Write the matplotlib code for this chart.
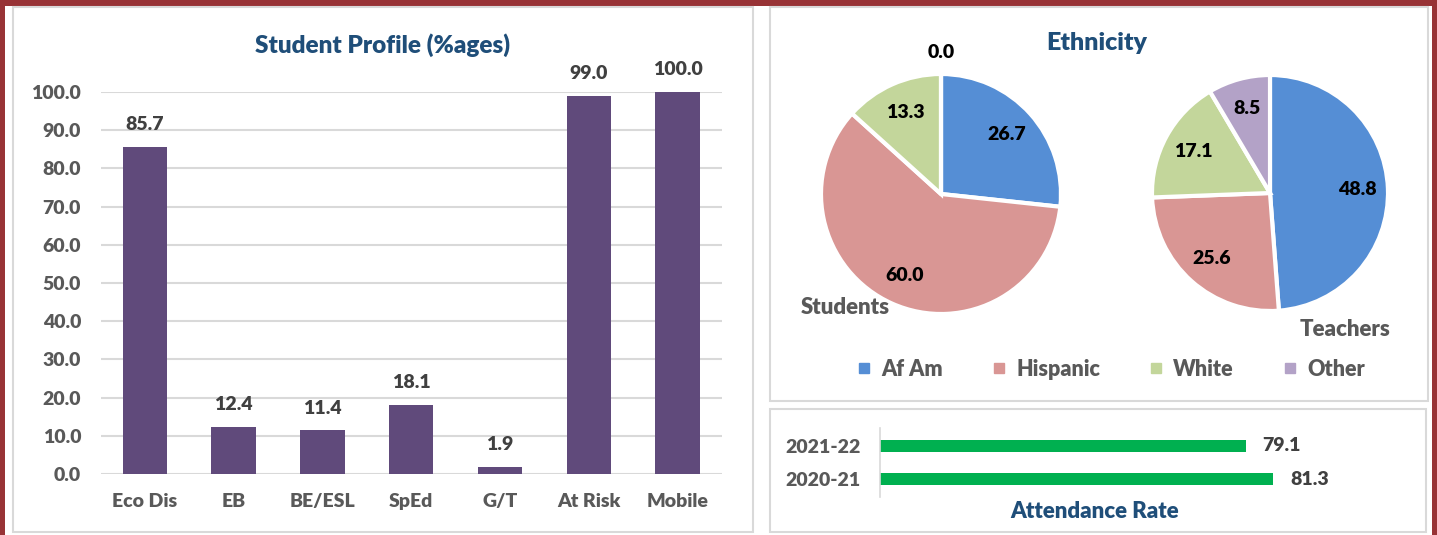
import matplotlib
matplotlib.use("Agg")
import matplotlib.pyplot as plt
from matplotlib.patches import Rectangle
from matplotlib.lines import Line2D
import numpy as np

plt.rcParams['font.family'] = ['Lato', 'DejaVu Sans']
plt.rcParams['font.weight'] = 'heavy'

# ---- data ----
profile_cats = ["Eco Dis", "EB", "BE/ESL", "SpEd", "G/T", "At Risk", "Mobile"]
profile_vals = [85.7, 12.4, 11.4, 18.1, 1.9, 99.0, 100.0]

eth_groups = ["Af Am", "Hispanic", "White", "Other"]
students_eth = [26.7, 60.0, 13.3, 0.0]
teachers_eth = [48.8, 25.6, 17.1, 8.5]

att_years = ["2020-21", "2021-22"]
att_rate = [81.3, 79.1]

# ---- styles ----
W, H = 1437, 535
RED = "#983336"
TITLE = "#1F4E79"
GREY_TXT = "#595959"
LBL = "#404040"
BORDER = "#D9D9D9"
PURPLE = "#604A7B"
GREEN = "#00B050"
eth_colors = ["#558ED5", "#D99694", "#C3D69B", "#B3A2C7"]

fig = plt.figure(figsize=(W / 100, H / 100), dpi=100, facecolor=RED)


def box(x0, y0, x1, y1):
    """pixel box (top-left origin) -> figure fraction rect"""
    return [x0 / W, 1 - y1 / H, (x1 - x0) / W, (y1 - y0) / H]


def panel(x0, y0, x1, y1, face="white", edge=BORDER, lw=1.5):
    r = box(x0, y0, x1, y1)
    fig.patches.append(Rectangle((r[0], r[1]), r[2], r[3], transform=fig.transFigure,
                                 facecolor=face, edgecolor=edge, linewidth=lw, zorder=-5))


panel(5, 6, 1432, 540, edge="none", lw=0)
panel(13, 7, 753, 532)
panel(770, 7, 1428, 401)
panel(770, 409, 1426, 532)

# ---- Student profile bars ----
ax = fig.add_axes(box(100.5, 92, 722, 474))
x = np.arange(len(profile_cats))
bars = ax.bar(x, profile_vals, width=0.5, color=PURPLE, zorder=3)
ax.set_xlim(-0.5, len(profile_cats) - 0.5)
ax.set_ylim(0, 100)
ax.set_yticks(np.arange(0, 101, 10))
ax.set_yticklabels([f"{v:.1f}" for v in np.arange(0, 101, 10)])
ax.set_xticks(x)
ax.set_xticklabels(profile_cats)
ax.tick_params(axis='y', length=0, pad=14, labelsize=14, labelcolor=GREY_TXT)
ax.tick_params(axis='x', length=0, pad=14, labelsize=14, labelcolor=GREY_TXT)
ax.grid(axis='y', color=BORDER, linewidth=1.5, zorder=0)
for s in ax.spines.values():
    s.set_visible(False)
ax.set_facecolor("none")
for b, v in zip(bars, profile_vals):
    ax.annotate(f"{v:.1f}", (b.get_x() + b.get_width() / 2, v), xytext=(0, 10),
                textcoords="offset points", ha="center", va="bottom",
                fontsize=14, color=LBL, annotation_clip=False)
fig.text(383 / W, 1 - 45 / H, "Student Profile (%ages)", ha="center", va="center",
         fontsize=17.5, color=TITLE)

# ---- Ethnicity pies ----
fig.text(1097 / W, 1 - 43 / H, "Ethnicity", ha="center", va="center", fontsize=18, color=TITLE)


def draw_pie(cx, cy, r_px, vals):
    a = fig.add_axes(box(cx - 150, cy - 150, cx + 150, cy + 150))
    rad = r_px / 120
    wedges, _ = a.pie(vals, colors=eth_colors, startangle=90, counterclock=False,
                      radius=rad, wedgeprops=dict(edgecolor="white", linewidth=3))
    a.set_xlim(-1.25, 1.25)
    a.set_ylim(-1.25, 1.25)
    a.set_aspect("equal")
    a.axis("off")
    for w, v in zip(wedges, vals):
        ang = np.deg2rad((w.theta1 + w.theta2) / 2)
        d = 0.74 * rad if v > 0 else 1.18 * rad
        a.text(d * np.cos(ang), d * np.sin(ang), f"{v:.1f}", ha="center", va="center",
               fontsize=14, color="black")
    return a


draw_pie(941, 194, 120, students_eth)
draw_pie(1270, 193, 118, teachers_eth)
fig.text(845 / W, 1 - 308 / H, "Students", ha="center", va="center", fontsize=16, color=GREY_TXT)
fig.text(1345 / W, 1 - 329 / H, "Teachers", ha="center", va="center", fontsize=16, color=GREY_TXT)

handles = [Line2D([], [], marker="s", linestyle="none", markersize=7, color=c) for c in eth_colors]
fig.legend(handles, eth_groups, loc="center", bbox_to_anchor=(1110 / W, 1 - 369 / H), ncol=4,
           frameon=False, fontsize=15.5, labelcolor=GREY_TXT, handlelength=0.8,
           handletextpad=0.4, columnspacing=2.2)

# ---- Attendance ----
ax3 = fig.add_axes(box(880, 428, 1320, 497))
y = np.arange(len(att_years))
hb = ax3.barh(y, att_rate, height=0.37, color=GREEN)
ax3.set_xlim(50, 85)
ax3.set_ylim(-0.53, 1.53)
ax3.set_yticks(y)
ax3.set_yticklabels(att_years)
ax3.set_xticks([])
ax3.tick_params(axis='y', length=0, pad=14, labelsize=14, labelcolor=GREY_TXT)
for k, s in ax3.spines.items():
    s.set_visible(k == "left")
ax3.spines["left"].set_color(BORDER)
ax3.spines["left"].set_linewidth(1.2)
ax3.set_facecolor("none")
for b, v in zip(hb, att_rate):
    ax3.annotate(f"{v:.1f}", (v, b.get_y() + b.get_height() / 2), xytext=(12, 0),
                 textcoords="offset points", ha="left", va="center",
                 fontsize=14, color=LBL, annotation_clip=False)
fig.text(1095 / W, 1 - 512 / H, "Attendance Rate", ha="center", va="center", fontsize=16, color=TITLE)

fig.savefig("out.png", dpi=100, facecolor=fig.get_facecolor())
